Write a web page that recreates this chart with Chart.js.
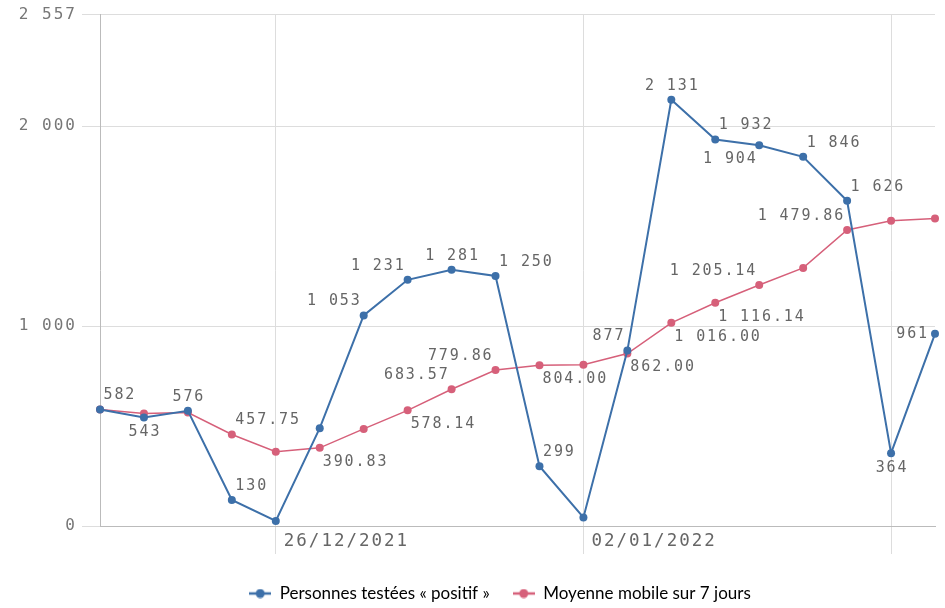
<!DOCTYPE html>
<html><head><meta charset="utf-8">
<script src="https://cdn.jsdelivr.net/npm/chart.js@4/dist/chart.umd.min.js"></script>
<style>html,body{margin:0;padding:0;background:#fff}#wrap{width:945px;height:608px;position:relative}</style>
</head><body><div id="wrap"><canvas id="c"></canvas></div>
<script>
const dates = ['22/12/2021','23/12/2021','24/12/2021','25/12/2021','26/12/2021','27/12/2021','28/12/2021','29/12/2021','30/12/2021','31/12/2021',
  '01/01/2022','02/01/2022','03/01/2022','04/01/2022','05/01/2022','06/01/2022','07/01/2022','08/01/2022','09/01/2022','10/01/2022'];
const positives = [582,543,576,130,25,489,1053,1231,1281,1250,299,43,877,2131,1932,1904,1846,1626,364,961];
const movingAvg = [582,562.5,567,457.75,371.2,390.83,485.43,578.14,683.57,779.86,804.00,806.57,862.00,1016.00,1116.14,1205.14,1290.29,1479.86,1525.71,1537.71];
const yTicks = [0,1000,2000,2557];
const shownDates = ['26/12/2021','02/01/2022'];
const gridDates = ['26/12/2021','02/01/2022','09/01/2022'];
const seriesNames = ['Personnes testées « positif »','Moyenne mobile sur 7 jours'];

// label placement (style only)
const bluePlace = ['ar','b','a','ar',null,null,'al','al','a','ar','ar',null,'al','a','ar','bl','ar','ar','b','l'];
const redPlace  = [null,null,null,'ar',null,'br',null,'br','al','al','br',null,'br','br','br','al',null,'al',null,null];

const BLUE = '#3d70a9', RED = '#d6607a';
const MONO = '"DejaVu Sans Mono", monospace';
const LS = '2px';

function fmt(v, dec){
  const s = Number(v).toFixed(dec);
  const parts = s.split('.');
  const ii = parts[0].replace(/\B(?=(\d{3})+(?!\d))/g,' ');
  return parts.length > 1 ? ii + '.' + parts[1] : ii;
}
function legendIcon(color){
  const c = document.createElement('canvas'); c.width = 22; c.height = 10;
  const x = c.getContext('2d');
  x.strokeStyle = color; x.lineWidth = 2.5;
  x.beginPath(); x.moveTo(0,5); x.lineTo(22,5); x.stroke();
  x.fillStyle = color; x.beginPath(); x.arc(11,5,4.5,0,Math.PI*2); x.fill();
  return c;
}

const labelPlugin = {
  id: 'dl',
  afterLayout(chart){
    if (chart.legend) { chart.legend.left += 65; }
  },
  afterDatasetsDraw(chart){
    const ctx = chart.ctx;
    ctx.letterSpacing = LS;
    ctx.save();
    ctx.letterSpacing = '1.9px';
    ctx.font = '15px ' + MONO;
    ctx.fillStyle = '#666';
    ctx.textBaseline = 'middle';
    [[0, bluePlace, 0],[1, redPlace, 2]].forEach(([di, places, dec]) => {
      const meta = chart.getDatasetMeta(di);
      const vals = chart.data.datasets[di].data;
      meta.data.forEach((pt, i) => {
        const p = places[i]; if (!p) return;
        const t = fmt(vals[i], dec);
        let x = pt.x, y = pt.y, al = 'center';
        if (p === 'ar'){ al='left'; x += 3.5; y -= 14; }
        else if (p === 'al'){ al='right'; x -= 2; y -= 14; }
        else if (p === 'a'){ x += 1; y -= 14; }
        else if (p === 'b'){ x += 1; y += 15; }
        else if (p === 'br'){ al='left'; x += 3; y += 14; }
        else if (p === 'bl'){ al='right'; x -= 1.5; y += 14; }
        else if (p === 'l'){ al='right'; x -= 6; }
        ctx.textAlign = al;
        ctx.fillText(t, x, y);
      });
    });
    ctx.restore();
  },
  afterDraw(chart){ chart.ctx.letterSpacing = '0px'; }
};

new Chart(document.getElementById('c'), {
  type: 'line',
  data: {
    labels: dates,
    datasets: [
      { label: seriesNames[0], data: positives, borderColor: BLUE, backgroundColor: BLUE,
        borderWidth: 2, pointRadius: 4, pointBorderWidth: 0, pointBackgroundColor: BLUE, tension: 0 },
      { label: seriesNames[1], data: movingAvg, borderColor: RED, backgroundColor: RED,
        borderWidth: 1.5, pointRadius: 4, pointBorderWidth: 0, pointBackgroundColor: RED, tension: 0 }
    ]
  },
  options: {
    responsive: true, maintainAspectRatio: false, animation: false,
    layout: { padding: { top: 4, right: 10, left: 0, bottom: -4 } },
    plugins: {
      tooltip: { enabled: false },
      legend: {
        position: 'bottom',
        labels: {
          usePointStyle: true, pointStyleWidth: 22, padding: 23,
          color: '#777', font: { family: 'Lato', size: 17 },
          generateLabels(chart){
            return chart.data.datasets.map((ds, i) => ({
              text: ds.label, fillStyle: ds.borderColor, strokeStyle: ds.borderColor,
              pointStyle: legendIcon(ds.borderColor), datasetIndex: i, hidden: false, lineWidth: 0
            }));
          }
        }
      }
    },
    scales: {
      x: {
        afterFit: s => { s.height = 36; },
        grid: { color: c => gridDates.includes(dates[c.index]) ? '#dddddd' : 'rgba(0,0,0,0)', tickLength: 28, z: -1 },
        border: { color: '#bbbbbb' },
        ticks: { autoSkip: false, maxRotation: 0, minRotation: 0, align: 'start', labelOffset: 8, padding: -23, z: 1,
          color: '#666', font: { family: MONO, size: 17.5 },
          callback: (v, i) => shownDates.includes(dates[i]) ? dates[i] : '' }
      },
      y: {
        min: 0, max: 2557,
        afterBuildTicks: s => { s.ticks = yTicks.map(v => ({ value: v })); },
        afterFit: s => { s.width = 100; },
        grid: { color: '#dddddd', tickLength: 18 },
        border: { color: '#bbbbbb' },
        ticks: { padding: 5, z: 1, color: '#777', font: { family: MONO, size: 16 }, callback: v => fmt(v, 0) }
      }
    }
  },
  plugins: [labelPlugin]
});
</script>
</body></html>
